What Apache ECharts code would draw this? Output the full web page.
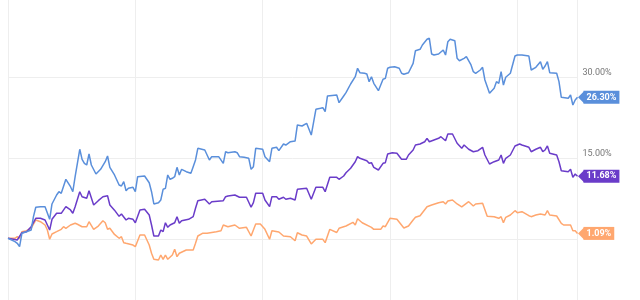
<!DOCTYPE html>
<html><head><meta charset="utf-8">
<script src="https://cdn.jsdelivr.net/npm/echarts@6/dist/echarts.min.js"></script>
<style>html,body{margin:0;padding:0;background:#fff}#c{width:640px;height:300px}</style>
</head><body><div id="c"></div>
<script>
// Trading-day index (x) and cumulative return in % (y) for each series
const blueDays = [0,3,4,5,6,8,10,11,12,14,16,18,19,21,22,23,25,27,28,29,31,32,33,34,35,36,38,40,42,43,44,46,48,49,50,51,52,54,55,56,59,61,62,63,65,66,67,68,69,70,71,72,73,74,75,77,79,80,81,82,85,87,88,91,93,94,95,98,99,100,102,104,105,106,107,110,111,113,114,116,117,119,120,122,124,125,127,129,131,133,135,136,137,138,142,143,145,146,148,150,151,152,154,155,156,157,158,160,162,163,164,165,167,169,170,171,173,175,176,178,179,181,182,183,184,186,188,189,190,191,193,194,195,197,198,200,201,202,204,205,206,208,210,211,212,213,214,215,217,219,220,222,225,226,228,230,231,232,233,234,237,238,239,242,243,244,245,246];
const blueVals = [0.19,-0.44,-0.74,-1.37,1.11,1.41,1.72,4.19,5.93,6.04,6.04,3.70,6.54,8.20,8.81,8.52,11.11,9.74,8.81,11.59,16.67,14.81,14.07,13.76,15.80,13.76,12.09,12.96,14.37,15.43,13.33,11.91,10.06,9.87,10.67,9.00,9.44,9.63,8.81,11.59,11.72,10.48,8.81,6.54,6.78,7.28,9.26,9.44,11.91,11.11,11.30,11.59,13.33,11.91,12.96,12.52,12.22,13.44,14.69,16.85,16.54,14.69,15.30,15.30,14.07,16.22,16.04,16.22,16.04,15.30,15.19,15.00,12.96,13.44,16.85,16.67,15.30,14.37,16.85,17.04,16.41,17.65,17.46,18.07,18.20,21.17,20.98,21.48,19.31,24.07,24.26,24.37,23.63,26.54,26.72,25.30,26.54,27.15,28.76,30.11,31.67,30.85,30.74,30.61,29.19,30.11,28.89,27.52,29.63,29.81,31.67,31.85,31.96,31.67,30.74,30.56,30.85,32.59,34.93,35.19,35.98,37.04,37.22,34.31,34.13,34.31,35.06,34.13,36.59,37.04,36.78,33.52,33.07,33.52,33.81,32.28,31.04,30.74,31.35,31.85,29.50,27.04,27.96,29.19,28.89,31.04,28.57,30.00,30.74,33.94,34.13,34.13,33.94,31.35,31.85,32.89,31.48,32.09,32.89,30.85,30.74,29.19,26.30,26.11,26.72,24.87,25.80,26.30];

const purpleDays = [0,4,6,8,10,12,14,16,18,19,21,23,25,27,28,29,31,32,34,35,37,39,41,43,44,46,48,49,51,52,54,55,57,59,61,62,63,65,66,67,68,69,70,72,73,74,75,78,80,81,82,85,87,88,93,94,95,98,100,103,105,106,107,110,111,113,114,116,117,119,120,122,124,125,129,131,133,136,137,139,142,143,145,146,148,150,151,152,155,156,157,158,160,162,163,164,166,168,170,172,173,175,176,178,180,181,182,184,186,187,189,190,192,194,196,197,199,201,203,205,206,208,210,212,213,214,215,217,219,221,222,225,226,228,230,231,232,233,234,237,238,239,242,243,244,245,246];
const purpleVals = [0.19,-0.13,1.22,1.41,2.33,3.89,3.89,3.57,1.72,3.70,4.81,4.81,6.04,5.43,4.81,6.04,8.81,7.89,7.59,9.00,6.35,7.15,7.89,8.07,6.35,5.40,4.25,4.69,3.57,3.89,3.70,3.07,5.43,5.56,4.50,2.65,0.61,0.61,1.72,1.41,3.07,2.22,2.65,3.07,4.19,2.96,3.44,3.70,4.19,5.74,7.15,7.41,6.54,6.96,7.15,7.89,8.02,8.20,7.78,7.78,5.93,6.78,8.52,8.52,7.28,6.04,7.89,7.89,7.41,7.78,7.41,7.59,7.28,9.26,9.44,7.41,9.63,9.63,8.81,11.48,11.48,11.11,11.72,12.33,13.15,14.37,15.30,15.00,14.56,14.07,14.19,13.33,12.83,14.07,14.19,15.80,16.04,15.93,14.81,14.81,15.61,16.54,17.46,17.65,18.07,18.70,18.07,18.39,18.70,19.00,18.26,19.50,19.50,17.78,16.85,17.46,16.67,16.22,16.41,17.04,15.61,13.94,14.37,14.69,15.61,14.07,15.00,15.61,17.28,17.65,17.46,17.04,16.22,16.67,17.04,16.22,16.54,17.28,15.93,15.61,14.37,12.70,12.52,12.96,11.48,12.09,11.68];

const orangeDays = [0,3,4,5,6,8,10,11,12,14,16,17,18,19,21,23,24,25,27,29,30,32,34,35,37,39,41,42,43,44,46,48,49,50,51,54,55,57,59,61,62,63,65,66,67,68,69,71,72,73,74,77,80,81,82,84,86,90,92,93,95,98,100,103,105,107,109,111,113,114,117,119,122,124,125,127,129,131,133,136,137,139,142,143,146,149,150,151,153,157,158,161,162,163,165,168,171,173,175,176,178,181,183,186,188,189,190,192,194,196,199,201,202,205,207,210,212,213,214,215,217,219,220,222,225,226,228,230,232,233,234,237,239,240,243,244,245,246];
const orangeVals = [0.19,0.19,0.48,0.19,1.41,1.59,2.04,2.83,3.57,3.26,2.65,1.72,0.00,0.98,1.41,1.85,2.33,2.04,2.65,2.96,2.78,2.33,2.33,3.26,1.85,2.46,3.44,3.07,1.85,2.04,0.90,0.19,0.48,-0.63,-0.74,-1.06,-1.37,0.80,0.80,-1.06,-2.59,-3.70,-3.83,-2.91,-3.70,-2.91,-3.70,-2.91,-1.85,-3.22,-2.59,-1.98,-1.98,-0.74,0.61,1.11,1.11,1.41,1.59,2.65,2.33,2.65,2.04,2.22,0.61,2.83,2.83,1.85,0.00,1.59,1.35,0.61,0.48,-0.26,1.22,0.80,0.61,-0.87,0.00,0.00,-0.63,1.85,1.26,2.04,2.46,3.15,2.65,3.81,3.07,2.22,1.85,1.85,2.46,2.33,3.89,3.70,2.10,2.46,3.57,4.07,4.37,6.04,6.35,6.78,6.96,6.54,7.09,7.28,6.54,6.00,6.96,6.17,6.54,6.67,4.26,4.19,3.89,4.19,3.07,4.07,4.50,5.30,4.93,5.11,4.37,4.19,4.50,4.69,4.50,5.30,4.50,4.31,2.96,2.65,2.65,1.59,1.59,1.09];

const yTicksShown = [15, 30];

const pair = (d, v) => d.map((x, i) => [x, v[i]]);
const COLORS = { blue: '#5a8fdb', purple: '#6a3cc9', orange: '#ffa76f' };

function mkSeries(name, days, vals, color) {
  const last = [days[days.length - 1], vals[vals.length - 1]];
  return {
    name, type: 'line', data: pair(days, vals), showSymbol: false, symbol: 'none',
    lineStyle: { color, width: 1.5 }, itemStyle: { color },
    animation: false,
    endLabel: {
      show: true, distance: 6,
      formatter: p => p.value[1].toFixed(2) + '%',
      backgroundColor: color, color: '#fff', fontWeight: 'bold',
      fontFamily: 'Roboto', fontSize: 9, padding: [1.5, 3, 1.5, 3], lineHeight: 10
    },
    markPoint: {
      silent: true, animation: false,
      symbol: 'triangle', symbolSize: [12, 6], symbolRotate: 90, symbolOffset: [3.5, 0],
      itemStyle: { color }, label: { show: false },
      data: [{ coord: last }]
    }
  };
}

const chart = echarts.init(document.getElementById('c'), null, { renderer: 'canvas' });
chart.setOption({
  animation: false,
  grid: { left: 8, right: 62.5, top: -3.7, height: 324, containLabel: false, outerBoundsMode: 'none' },
  xAxis: {
    type: 'value', min: 0, max: 246, interval: 55,
    axisLine: { show: false }, axisTick: { show: false }, axisLabel: { show: false },
    splitLine: { show: true, lineStyle: { color: '#eeeeee', width: 1 } }
  },
  yAxis: {
    type: 'value', position: 'right', min: -15, max: 45, interval: 15,
    axisLine: { show: true, lineStyle: { color: '#eeeeee' } }, axisTick: { show: false },
    axisLabel: {
      margin: 5, color: '#777', fontFamily: 'Roboto', fontSize: 9, verticalAlign: 'bottom',
      formatter: v => yTicksShown.includes(v) ? v.toFixed(2) + '%' : ''
    },
    splitLine: { show: true, lineStyle: { color: '#eeeeee', width: 1 } }
  },
  series: [
    mkSeries('Orange', orangeDays, orangeVals, COLORS.orange),
    mkSeries('Purple', purpleDays, purpleVals, COLORS.purple),
    mkSeries('Blue', blueDays, blueVals, COLORS.blue)
  ]
});
</script>
</body></html>
